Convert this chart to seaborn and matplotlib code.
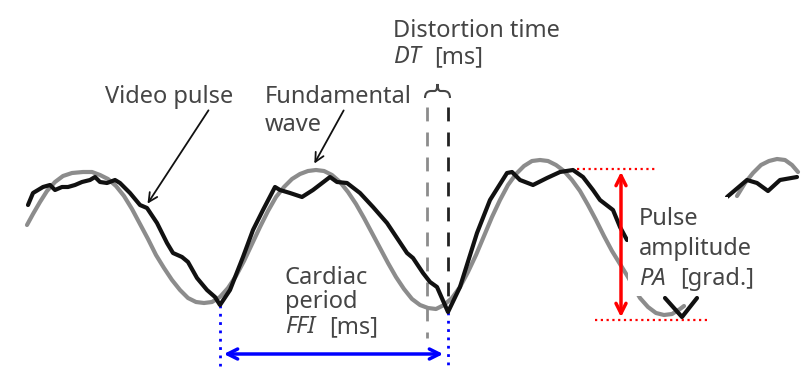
import matplotlib
matplotlib.use("Agg")
import matplotlib.pyplot as plt
from matplotlib.patches import Rectangle, PathPatch
from matplotlib.path import Path
import numpy as np
import pandas as pd
import seaborn as sns

sns.set_theme(style="white")
plt.rcParams["font.family"] = ["Noto Sans", "DejaVu Sans"]

# Traced waveforms (x: time position, y: signal level, screen-down positive)
fund_x = [27, 33, 40, 47, 55, 63, 72, 83, 92, 100, 108, 116, 124, 132, 140,
          148, 156, 164, 172, 180, 188, 196, 204, 212, 220, 228, 236, 244, 252,
          260, 268, 276, 284, 292, 300, 308, 316, 324, 332, 340, 348, 356, 364,
          372, 380, 388, 396, 404, 412, 420, 428, 436, 444, 452, 460, 468, 476,
          484, 492, 500, 508, 516, 524, 532, 540, 548, 556, 564, 572, 580, 588,
          596, 604, 612, 620, 628, 640, 648, 656, 664, 672, 680, 684, 737, 745,
          753, 761, 769, 777, 785, 792, 798]
fund_y = [225, 214, 202, 191, 182, 176, 173, 172, 172, 175, 179, 186, 196, 209,
          224, 239, 255, 268, 280, 290, 298, 302, 303, 302, 297, 288, 276, 261,
          244, 227, 211, 197, 187, 179, 174, 171, 170, 171, 175, 182, 192, 204,
          218, 233, 248, 263, 277, 289, 299, 305, 308, 309, 305, 298, 287, 272,
          255, 236, 217, 200, 185, 174, 166, 161, 160, 161, 165, 171, 180, 191,
          205, 220, 236, 251, 264, 277, 298, 307, 313, 315, 314, 309, 306, 196,
          183, 173, 165, 161, 159, 160, 165, 172]

pulse_x = [28, 33, 43, 50, 55, 62, 68, 75, 82, 90, 95, 100, 107, 115, 120, 130,
           140, 147, 157, 167, 173, 182, 188, 197, 207, 215, 220, 230, 243, 253,
           263, 275, 280, 290, 302, 313, 330, 337, 347, 360, 373, 387, 397, 407,
           413, 423, 430, 437, 448, 460, 477, 490, 507, 512, 520, 533, 547, 560,
           573, 583, 593, 600, 613, 620, 627, 665, 682, 697, 727, 747, 757, 768,
           780, 797]
pulse_y = [205, 193, 187, 185, 190, 187, 187, 185, 182, 180, 177, 182, 183, 180,
           183, 193, 205, 208, 223, 243, 253, 257, 262, 278, 290, 297, 305, 290,
           257, 230, 210, 187, 190, 193, 197, 190, 177, 182, 183, 193, 207, 223,
           238, 253, 258, 273, 282, 287, 312, 287, 233, 200, 173, 172, 180, 185,
           178, 172, 170, 177, 190, 200, 210, 227, 240, 298, 317, 298, 197, 180,
           183, 191, 180, 177]


def split_runs(xs, ys, max_gap=20):
    """Label contiguous runs; a jump wider than max_gap starts a new run."""
    seg, runs = 0, []
    for i, x in enumerate(xs):
        if i > 0 and x - xs[i - 1] > max_gap:
            seg += 1
        runs.append(seg)
    return pd.DataFrame({"t": xs, "v": ys, "seg": runs})


fund = split_runs(fund_x, fund_y)
pulse = split_runs(pulse_x, pulse_y)

# Markers for measured quantities
trough_a = 220        # first pulse minimum
trough_b = 448        # second pulse minimum
fund_trough = 427     # fundamental minimum
pa_top, pa_bottom = 169, 320

fig = plt.figure(figsize=(8.07, 3.75), dpi=100)
ax = fig.add_axes([0, 0, 1, 1])

for _, g in fund.groupby("seg"):
    sns.lineplot(data=g, x="t", y="v", ax=ax, color="#8c8c8c", lw=3,
                 sort=False, estimator=None, zorder=2)
for _, g in pulse.groupby("seg"):
    sns.lineplot(data=g, x="t", y="v", ax=ax, color="#111111", lw=3,
                 sort=False, estimator=None, zorder=3)

ax.set_xlim(0, 807)
ax.set_ylim(375, 0)
ax.axis("off")

txt = "#454545"
fs = 17

# Distortion time markers
ax.plot([fund_trough, fund_trough], [107, 338], color="#8c8c8c", lw=2,
        dashes=(5, 4), zorder=1)
ax.plot([trough_b, trough_b], [107, 312], color="#222222", lw=2,
        dashes=(5, 4), zorder=1)
mid = (fund_trough + trough_b) / 2
brace = Path(
    [(fund_trough - 2, 98), (fund_trough - 2, 91), (fund_trough + 4, 91),
     (mid - 3, 91), (mid, 91), (mid, 84),
     (mid, 91), (mid + 3, 91),
     (trough_b - 4, 91), (trough_b + 2, 91), (trough_b + 2, 98)],
    [Path.MOVETO, Path.CURVE3, Path.CURVE3,
     Path.LINETO, Path.CURVE3, Path.CURVE3,
     Path.CURVE3, Path.CURVE3,
     Path.LINETO, Path.CURVE3, Path.CURVE3])
ax.add_patch(PathPatch(brace, fill=False, edgecolor=txt, lw=1.5))
ax.text(393, 37, "Distortion time", fontsize=fs, color=txt, va="baseline")
ax.text(393, 63, "DT", fontsize=fs, style="italic", color=txt, va="baseline")
ax.text(434, 63, "[ms]", fontsize=fs, color=txt, va="baseline")

# Cardiac period
ax.plot([trough_a, trough_a], [305, 366], color="blue", lw=2, ls=(0, (1, 2)))
ax.plot([trough_b, trough_b], [312, 366], color="blue", lw=2, ls=(0, (1, 2)))
ax.annotate("", xy=(trough_b - 2, 354), xytext=(trough_a + 1, 354),
            arrowprops=dict(arrowstyle="<->", color="blue", lw=2.5,
                            mutation_scale=18))
ax.text(285, 284, "Cardiac", fontsize=fs, color=txt, va="baseline")
ax.text(285, 308, "period", fontsize=fs, color=txt, va="baseline")
ax.text(285, 333, "FFI", fontsize=fs, style="italic", color=txt,
        va="baseline")
ax.text(329, 333, "[ms]", fontsize=fs, color=txt, va="baseline")

# Pulse amplitude
ax.add_patch(Rectangle((628, 197), 100, 99, facecolor="white",
                       edgecolor="none", zorder=4))
ax.plot([577, 656], [pa_top, pa_top], color="red", lw=1.6, ls=(0, (1, 1.6)))
ax.plot([595, 710], [pa_bottom, pa_bottom], color="red", lw=1.6,
        ls=(0, (1, 1.6)))
ax.annotate("", xy=(621, pa_top), xytext=(621, pa_bottom),
            arrowprops=dict(arrowstyle="<->", color="red", lw=2.5,
                            mutation_scale=18), zorder=5)
ax.text(639, 225, "Pulse", fontsize=fs, color=txt, va="baseline", zorder=6)
ax.text(639, 255, "amplitude", fontsize=fs, color=txt, va="baseline",
        zorder=6)
ax.text(639, 285, "PA", fontsize=fs, style="italic", color=txt,
        va="baseline", zorder=6)
ax.text(680, 285, "[grad.]", fontsize=fs, color=txt, va="baseline", zorder=6)

# Curve labels
ax.text(105, 103, "Video pulse", fontsize=fs, color=txt, va="baseline")
ax.annotate("", xy=(146, 206), xytext=(210, 108),
            arrowprops=dict(arrowstyle="->", color="#111111", lw=1.3,
                            mutation_scale=16))
ax.text(265, 103, "Fundamental", fontsize=fs, color=txt, va="baseline")
ax.text(265, 131, "wave", fontsize=fs, color=txt, va="baseline")
ax.annotate("", xy=(313, 166), xytext=(345, 108),
            arrowprops=dict(arrowstyle="->", color="#111111", lw=1.3,
                            mutation_scale=16))

fig.savefig("out.png", dpi=100)
